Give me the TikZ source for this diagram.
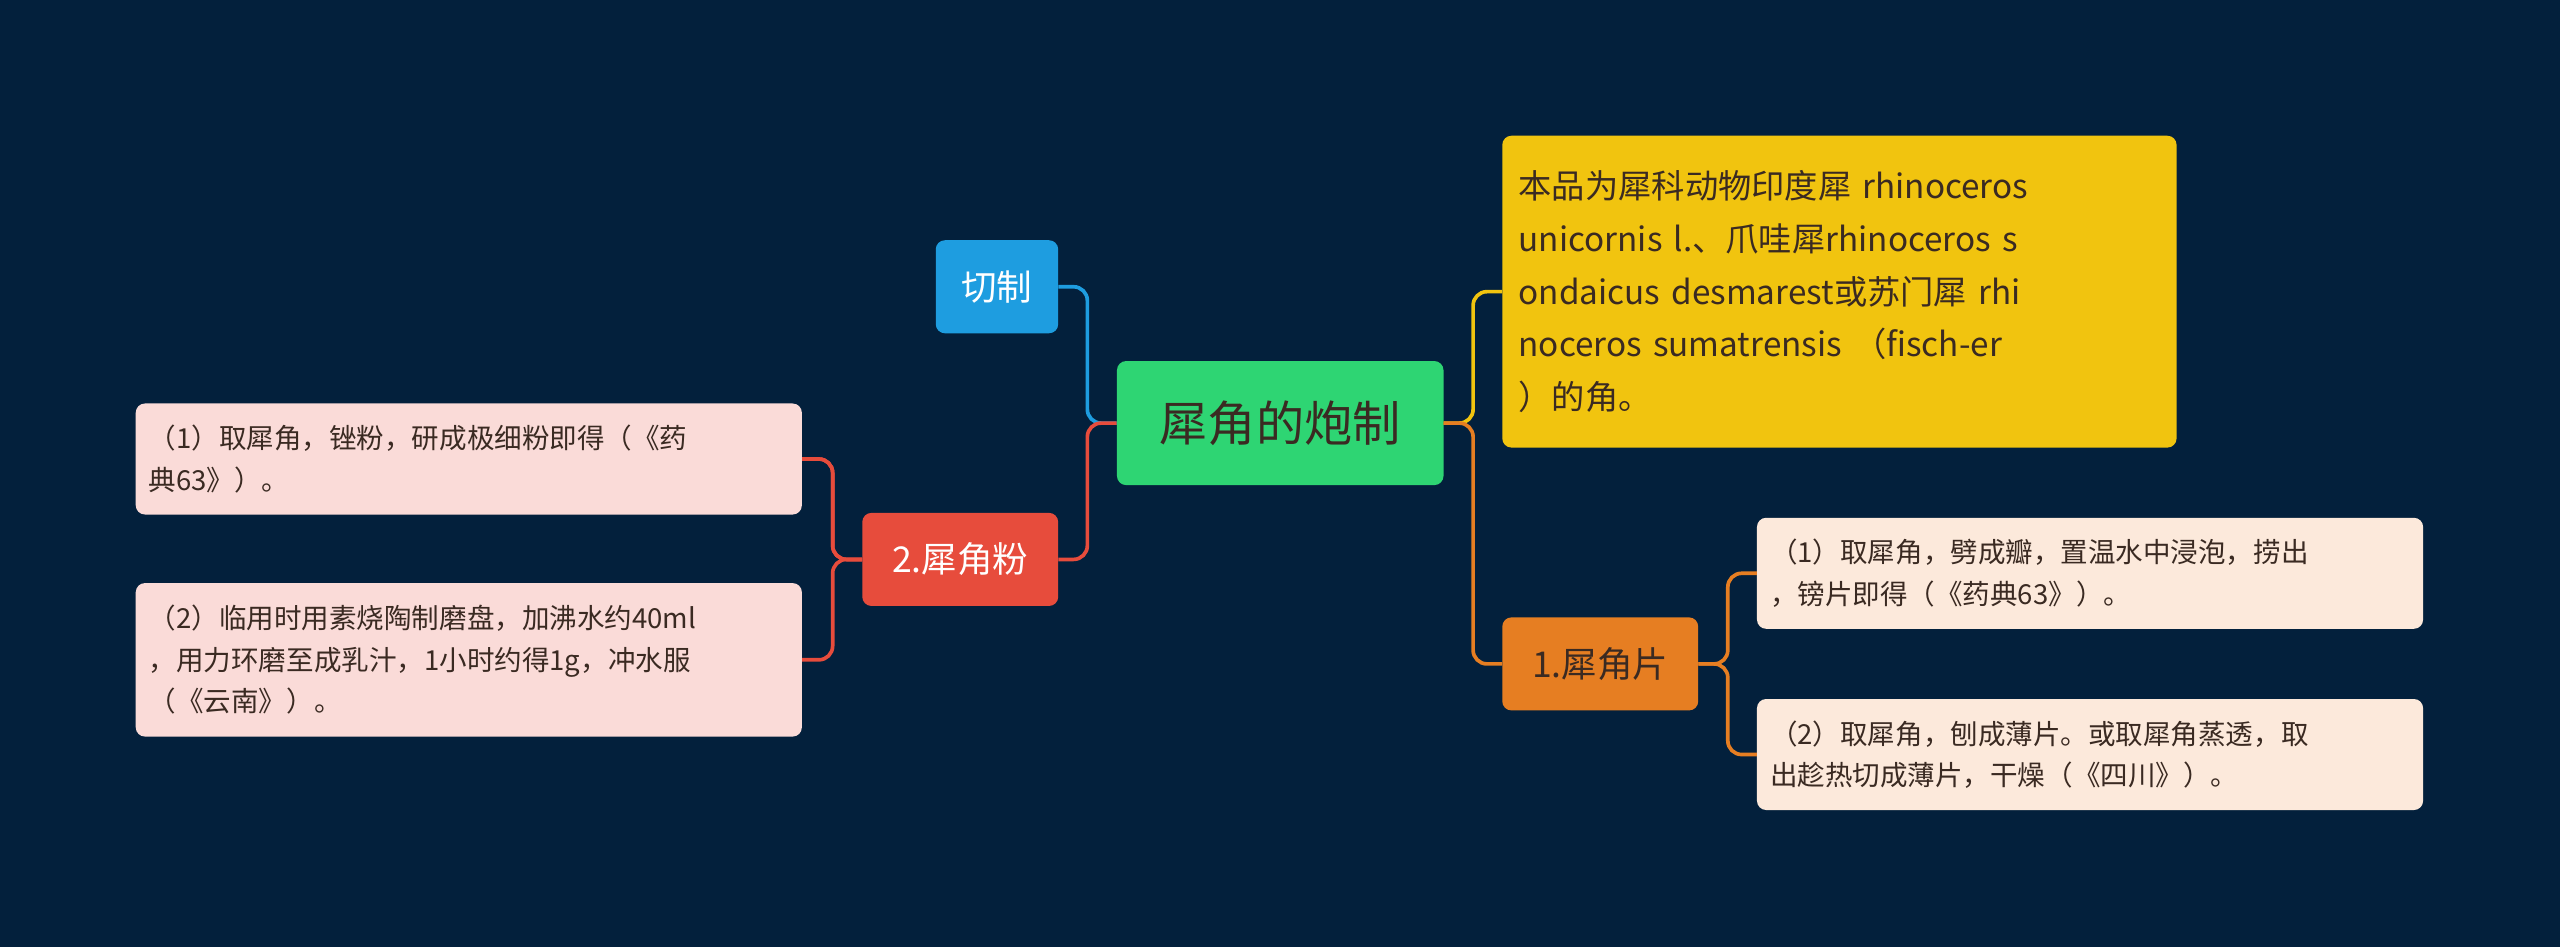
\documentclass[tikz,border=0pt]{standalone}
\usepackage{fontspec}
\setmainfont{Noto Sans CJK SC}
\begin{document}
\begin{tikzpicture}[x=0.05cm,y=-0.05cm,
 box/.style={rounded corners=8pt,anchor=north west,inner sep=0pt,align=left},
 ln/.style={line width=3.2pt,rounded corners=12pt}]
\definecolor{bg}{HTML}{03203C}
\definecolor{cgreen}{HTML}{2ED573}
\definecolor{cblue}{HTML}{1E9DE0}
\definecolor{cred}{HTML}{E74C3C}
\definecolor{cyel}{HTML}{F1C40F}
\definecolor{corange}{HTML}{E67E22}
\definecolor{pinkleaf}{HTML}{FADBD8}
\definecolor{peach}{HTML}{FCE9DB}
\definecolor{dtext}{HTML}{3A2A22}
\fill[bg] (0,0) rectangle (1568,580);
\useasboundingbox (0,0) rectangle (1568,580);
\node[box,fill=cgreen,minimum width=200*0.05cm,minimum height=76*0.05cm,align=center,text=dtext,font=\fontsize{42}{50}\selectfont] (c) at (684,221) {犀角的炮制};
\node[box,fill=cblue,minimum width=75*0.05cm,minimum height=57*0.05cm,align=center,text=white,font=\fontsize{31}{38}\selectfont] (q) at (573,147) {切制};
\node[box,fill=cred,minimum width=120*0.05cm,minimum height=57*0.05cm,align=center,text=white,font=\fontsize{31}{38}\selectfont] (f) at (528,314) {2.犀角粉};
\node[box,fill=pinkleaf,minimum width=408*0.05cm,minimum height=68*0.05cm,text width=392*0.05cm,text=dtext,font=\fontsize{24}{36}\selectfont] (l1) at (83,247) {（1）取犀角，锉粉，研成极细粉即得（《药\\典63》）。};
\node[box,fill=pinkleaf,minimum width=408*0.05cm,minimum height=94*0.05cm,text width=392*0.05cm,text=dtext,font=\fontsize{24}{36}\selectfont] (l2) at (83,357) {（2）临用时用素烧陶制磨盘，加沸水约40ml\\，用力环磨至成乳汁，1小时约得1g，冲水服\\（《云南》）。};
\node[box,fill=cyel,minimum width=413*0.05cm,minimum height=191*0.05cm,text width=393*0.05cm,text=dtext,font=\fontsize{29}{46}\selectfont] (y) at (920,83) {本品为犀科动物印度犀 rhinoceros\\ unicornis l.、爪哇犀rhinoceros s\\ondaicus desmarest或苏门犀 rhi\\noceros sumatrensis （fisch-er\\）的角。};
\node[box,fill=corange,minimum width=120*0.05cm,minimum height=57*0.05cm,align=center,text=dtext,font=\fontsize{31}{38}\selectfont] (p) at (920,378) {1.犀角片};
\node[box,fill=peach,minimum width=408*0.05cm,minimum height=68*0.05cm,text width=392*0.05cm,text=dtext,font=\fontsize{24}{36}\selectfont] (r1) at (1076,317) {（1）取犀角，劈成瓣，置温水中浸泡，捞出\\，镑片即得（《药典63》）。};
\node[box,fill=peach,minimum width=408*0.05cm,minimum height=68*0.05cm,text width=392*0.05cm,text=dtext,font=\fontsize{24}{36}\selectfont] (r2) at (1076,428) {（2）取犀角，刨成薄片。或取犀角蒸透，取\\出趁热切成薄片，干燥（《四川》）。};
\draw[ln,cblue] (c.west) -- ++(-18,0) |- (q.east);
\draw[ln,cred] (c.west) -- ++(-18,0) |- (f.east);
\draw[ln,cred] (f.west) -- ++(-18,0) |- (l1.east);
\draw[ln,cred] (f.west) -- ++(-18,0) |- (l2.east);
\draw[ln,cred] (f.west) -- ++(-18,0) |- (l1.east);
\draw[ln,cyel] (c.east) -- ++(18,0) |- (y.west);
\draw[ln,corange] (c.east) -- ++(18,0) |- (p.west);
\draw[ln,corange] (p.east) -- ++(18,0) |- (r1.west);
\draw[ln,corange] (p.east) -- ++(18,0) |- (r2.west);
\end{tikzpicture}
\end{document}
